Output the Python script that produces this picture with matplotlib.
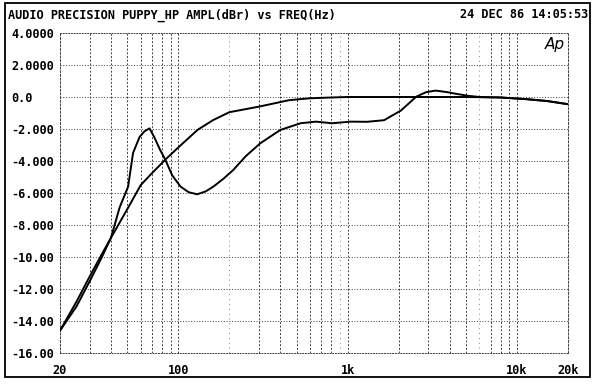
import matplotlib
matplotlib.use('Agg')
import matplotlib.pyplot as plt
from matplotlib.patches import Rectangle
from matplotlib.ticker import NullLocator, FixedLocator

# smooth high-pass response
freq_a = [20, 25, 30, 35, 40, 50, 60, 70, 85, 100, 130, 160, 200, 300, 450,
          600, 800, 1000, 2000, 5000, 8000, 11500, 15000, 20000]
ampl_a = [-14.6, -12.8, -11.2, -9.9, -8.8, -7.0, -5.5, -4.75, -3.85, -3.15, -2.05,
          -1.45, -0.95, -0.6, -0.2, -0.08, -0.03, 0.0, 0.0, 0.0, -0.03, -0.14,
          -0.25, -0.45]

# resonant response
freq_b = [20, 25, 30, 35, 40, 45, 50.5, 54, 59, 63, 67.5, 72, 78, 84, 92, 103,
          115, 129, 145, 161, 185, 211, 250, 304, 400, 527, 650, 810, 1040, 1300,
          1640, 2060, 2540, 2900, 3300, 3900, 4200, 5100, 6000, 8000, 11500,
          15000, 20000]
ampl_b = [-14.6, -13.1, -11.5, -10.1, -8.8, -6.9, -5.6, -3.5, -2.5, -2.15, -1.96,
          -2.5, -3.3, -3.95, -4.9, -5.6, -5.95, -6.08, -5.9, -5.6, -5.1, -4.56,
          -3.7, -2.9, -2.06, -1.64, -1.54, -1.64, -1.54, -1.55, -1.45, -0.85,
          0.02, 0.3, 0.4, 0.3, 0.23, 0.08, 0.0, -0.03, -0.14, -0.25, -0.45]

y_ticks = [4, 2, 0, -2, -4, -6, -8, -10, -12, -14, -16]
y_labels = ['4.0000', '2.0000', '0.0', '-2.000', '-4.000', '-6.000', '-8.000',
            '-10.00', '-12.00', '-14.00', '-16.00']
x_ticks = [20, 100, 1000, 10000, 20000]
x_labels = ['20', '100', '1k', '10k', '20k']

grid_dashed = [30, 40, 50, 60, 70, 80, 90, 100, 300, 400, 500, 600, 700, 800,
               1000, 2000, 3000, 4000, 5000, 7000, 8000, 9000, 10000]
grid_sparse = [200, 900, 6000]

mono = 'DejaVu Sans Mono'
fs = 8.6

fig = plt.figure(figsize=(6, 3.91), dpi=100)
ax = fig.add_axes([60/600, 1-353/391, 508/600, 320/391])
ax.set_xscale('log')
ax.set_xlim(20, 20000)
ax.set_ylim(-16, 4)

for f in grid_dashed:
    ax.axvline(f, color='0.25', lw=0.7, ls=(0, (2, 1.8)), zorder=1)
for f in grid_sparse:
    ax.axvline(f, color='0.5', lw=0.7, ls=(0, (1, 4)), zorder=1)
for y in range(-14, 4, 2):
    ax.axhline(y, color='0.25', lw=0.7, ls=(0, (1, 1.8)), zorder=1)

for s in ['top', 'bottom']:
    ax.spines[s].set_linestyle((0, (1, 1.8)))
for s in ['left', 'right']:
    ax.spines[s].set_linestyle((0, (2, 1.8)))
for s in ax.spines.values():
    s.set_linewidth(0.7)
    s.set_color('0.25')

ax.plot(freq_a, ampl_a, color='black', lw=1.4, zorder=3)
ax.plot(freq_b, ampl_b, color='black', lw=1.4, zorder=3)

ax.xaxis.set_major_locator(FixedLocator(x_ticks))
ax.xaxis.set_minor_locator(NullLocator())
ax.set_xticklabels(x_labels, fontfamily=mono, fontsize=fs, fontweight='bold')
ax.set_yticks(y_ticks)
ax.set_yticklabels(y_labels, fontfamily=mono, fontsize=fs, fontweight='bold',
                   ha='left')
ax.tick_params(axis='y', length=0, pad=35.3)
ax.tick_params(axis='x', length=0, pad=8)

fig.add_artist(Rectangle((5/600, 1-377/391), 585/600, 374/391,
                         transform=fig.transFigure, fill=False, lw=1.3,
                         ec='black'))

fig.text(8/600, 1-15/391, 'AUDIO PRECISION PUPPY_HP AMPL(dBr) vs FREQ(Hz)',
         fontfamily=mono, fontsize=fs, fontweight='bold', ha='left', va='center')
fig.text(588/600, 1-15/391, '24 DEC 86 14:05:53',
         fontfamily=mono, fontsize=fs, fontweight='bold', ha='right', va='center')
fig.text(555/600, 1-45/391, 'Ap', fontsize=11, style='italic',
         ha='center', va='center')

fig.savefig('out.png', dpi=100)
